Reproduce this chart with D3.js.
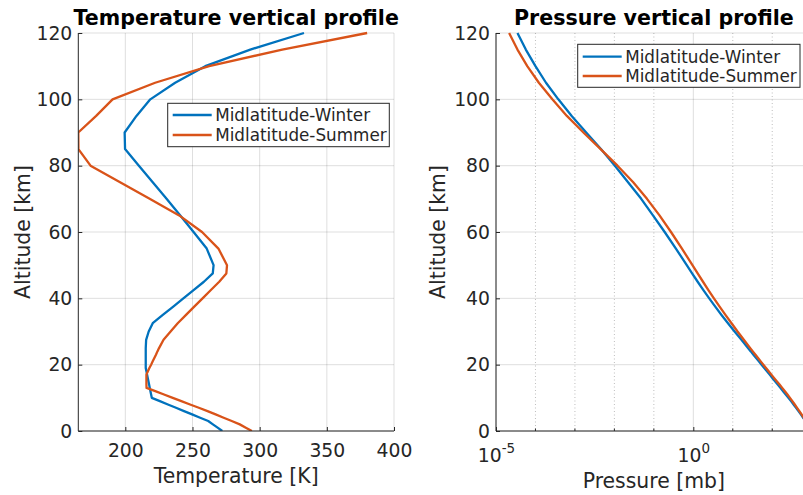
<!DOCTYPE html>
<html>
<head>
<meta charset="utf-8">
<script src="https://cdn.jsdelivr.net/npm/d3@7/dist/d3.min.js"></script>
<style>
  body { margin: 0; background: #fff; }
  svg { display: block; font-family: "DejaVu Sans", sans-serif; }
  .tick line { stroke: #262626; }
  .domain { stroke: #262626; }
</style>
</head>
<body>
<svg id="chart" width="803" height="495"></svg>
<script>
// altitude levels [km]
const altitudeKm = [0,1,2,3,4,5,6,7,8,9,10,11,12,13,14,15,16,17,18,19,20,21,22,23,24,25,
  27.5,30,32.5,35,37.5,40,42.5,45,47.5,50,
  55,60,65,70,75,80,85,90,95,100,105,110,115,120];

// temperature [K]
const winterTemp = [272.2,268.7,265.2,261.7,255.7,249.7,243.7,237.7,231.7,225.7,219.7,219.2,218.7,218.2,217.7,217.2,216.7,216.2,215.7,215.2,215.2,215.2,215.2,215.2,215.2,215.2,
  215.5,217.4,220.4,227.9,235.7,243.2,250.8,258.5,265.1,265.7,
  260.6,250.8,240.9,230.7,220.4,210.1,199.8,199.5,208.3,218.6,237.1,259.5,293.0,333.0];
const summerTemp = [294.2,289.7,285.2,279.2,273.2,267.2,261.2,254.7,248.2,241.7,235.3,228.8,222.3,215.8,215.7,215.7,215.7,215.7,216.8,217.9,219.2,220.4,221.6,222.8,223.9,225.1,
  228.45,233.7,239.0,245.2,251.3,257.5,263.7,269.9,275.2,275.7,
  269.3,257.1,240.1,218.1,196.1,174.1,165.1,165.0,178.3,190.5,222.2,262.4,316.8,380.0];

// pressure [mb]
const winterPres = [1018,897.3,789.7,693.8,608.1,531.3,462.7,401.6,347.3,299.2,256.8,219.9,188.2,161.0,137.8,117.8,100.7,86.1,73.5,62.8,53.7,45.8,39.1,33.4,28.6,24.3,
  16.6,11.1,7.56,5.18,3.60,2.53,1.80,1.29,0.932,0.682,
  0.362,0.188,0.0950,0.0478,0.0222,0.0103,0.00456,0.00193,0.000829,0.000380,0.000185,0.000100,0.000057,0.000035];
const summerPres = [1013,902,802,710,628,554,487,426,372,324,281,243,209,179,153,130,111,95.0,81.2,69.5,59.5,51.0,43.7,37.6,32.2,27.7,
  19.07,13.2,9.30,6.52,4.64,3.33,2.41,1.76,1.29,0.951,
  0.515,0.272,0.139,0.0670,0.0300,0.0120,0.00448,0.00164,0.000625,0.000268,0.000122,0.0000620,0.0000350,0.0000215];

const seriesNames = ["Midlatitude-Winter", "Midlatitude-Summer"];
const seriesColors = ["#0072BD", "#D95319"];

const altTicks = [0,20,40,60,80,100,120];
const tempTicks = [200,250,300,350,400];
const presTicks = [1e-5, 1e0];
const presTickExp = ["-5", "0"];
const presMinor = [1e-4,1e-3,1e-2,1e-1,1e1,1e2];

const svg = d3.select("#chart");
const axisColor = "#262626";

const plotTop = 33, plotBottom = 431;

function drawPanel(opt){
  let g = svg.append("g");
  let x = opt.x, y = opt.y;
  let x0 = x.range()[0], x1 = x.range()[1];

  // grid
  g.selectAll(".hgrid").data(altTicks).enter().append("line")
    .attr("x1", x0).attr("x2", x1)
    .attr("y1", d => y(d)).attr("y2", d => y(d))
    .attr("stroke", axisColor).attr("stroke-opacity", 0.15).attr("stroke-width", 1);
  g.selectAll(".vgrid").data(opt.xTicks).enter().append("line")
    .attr("x1", d => x(d)).attr("x2", d => x(d))
    .attr("y1", plotTop).attr("y2", plotBottom)
    .attr("stroke", axisColor).attr("stroke-opacity", 0.15).attr("stroke-width", 1);
  if(opt.minor){
    g.selectAll(".mgrid").data(opt.minor).enter().append("line")
      .attr("x1", d => x(d)).attr("x2", d => x(d))
      .attr("y1", plotTop).attr("y2", plotBottom)
      .attr("stroke", axisColor).attr("stroke-opacity", 0.3).attr("stroke-width", 1)
      .attr("stroke-dasharray", "1,2.5");
  }

  // clip
  let clipId = opt.id + "-clip";
  svg.append("clipPath").attr("id", clipId).append("rect")
    .attr("x", x0).attr("y", plotTop - 2).attr("width", x1 - x0).attr("height", plotBottom - plotTop + 2);

  let line = d3.line().x(d => x(d[0])).y(d => y(d[1]));
  opt.series.forEach(function(vals, i){
    let pts = vals.map((v, k) => [v, altitudeKm[k]]);
    g.append("path")
      .datum(pts)
      .attr("d", line)
      .attr("fill", "none")
      .attr("stroke", seriesColors[i])
      .attr("stroke-width", 2.3)
      .attr("stroke-linejoin", "round")
      .attr("clip-path", "url(#" + clipId + ")");
  });

  // axes (box off, ticks inward)
  let yAxis = d3.axisLeft(y).tickValues(altTicks).tickSize(-4).tickPadding(6);
  let ag = g.append("g").attr("transform", "translate(" + x0 + ",0)").call(yAxis);
  ag.selectAll("text").attr("font-size", 18.8).attr("fill", axisColor).attr("font-family", "DejaVu Sans");
  ag.select(".domain").attr("d", "M0," + plotTop + "V" + plotBottom);

  let xAxis = d3.axisBottom(x).tickValues(opt.xTicks).tickSize(-4).tickPadding(0);
  let bg = g.append("g").attr("transform", "translate(0," + plotBottom + ")").call(xAxis);
  bg.select(".domain").attr("d", "M" + x0 + ",0H" + x1);
  bg.selectAll("text").attr("font-size", 18.8).attr("fill", axisColor)
    .attr("font-family", "DejaVu Sans").attr("dy", null).attr("y", opt.tickBase - plotBottom);
  if(opt.exps){
    bg.selectAll("text").text(null).each(function(d, i){
      let t = d3.select(this);
      t.append("tspan").text("10");
      t.append("tspan").attr("font-size", 13.5).attr("dy", -9).text(opt.exps[i]);
    });
  }
  if(opt.minor){
    bg.selectAll(".minor").data(opt.minor).enter().append("line")
      .attr("x1", d => x(d)).attr("x2", d => x(d))
      .attr("y1", 0).attr("y2", -2.5).attr("stroke", axisColor);
  }

  // labels
  g.append("text").attr("x", (x0 + x1) / 2).attr("y", 25)
    .attr("text-anchor", "middle").attr("font-size", 20.6).attr("font-weight", "bold")
    .attr("fill", "#000").text(opt.title);
  g.append("text").attr("x", (x0 + x1) / 2).attr("y", opt.labelBase)
    .attr("text-anchor", "middle").attr("font-size", 20.4).attr("fill", axisColor).text(opt.xLabel);
  g.append("text")
    .attr("transform", "translate(" + opt.yLabelX + "," + ((plotTop + plotBottom) / 2) + ") rotate(-90)")
    .attr("text-anchor", "middle").attr("font-size", 20.4).attr("fill", axisColor).text("Altitude [km]");

  // legend
  let L = opt.legend;
  let lg = g.append("g");
  lg.append("rect").attr("x", L.x).attr("y", L.y).attr("width", L.w).attr("height", L.h)
    .attr("fill", "#fff").attr("stroke", axisColor).attr("stroke-width", 1);
  seriesNames.forEach(function(name, i){
    let cy = L.y + L.first + i * L.step;
    lg.append("line").attr("x1", L.x + 5).attr("x2", L.x + 44)
      .attr("y1", cy).attr("y2", cy)
      .attr("stroke", seriesColors[i]).attr("stroke-width", 2.3);
    lg.append("text").attr("x", L.x + 47.5).attr("y", cy + 6)
      .attr("font-size", 16.8).attr("fill", axisColor).text(name);
  });
}

const yScale = d3.scaleLinear().domain([0, 120]).range([plotBottom, plotTop]);

drawPanel({
  id: "temp",
  x: d3.scaleLinear().domain([165, 400]).range([78.3, 394]),
  y: yScale,
  xTicks: tempTicks,
  series: [winterTemp, summerTemp],
  title: "Temperature vertical profile",
  xLabel: "Temperature [K]",
  tickBase: 456.5,
  labelBase: 482.7,
  yLabelX: 29.5,
  legend: {x: 167.7, y: 103.3, w: 221.6, h: 43.4, first: 11.7, step: 20}
});

drawPanel({
  id: "pres",
  x: d3.scaleLog().domain([1e-5, 1e3]).range([496, 811.7]),
  y: yScale,
  xTicks: presTicks,
  exps: presTickExp,
  minor: presMinor,
  series: [winterPres, summerPres],
  title: "Pressure vertical profile",
  xLabel: "Pressure [mb]",
  tickBase: 461.7,
  labelBase: 488.3,
  yLabelX: 445,
  legend: {x: 577.7, y: 44.3, w: 222.3, h: 43, first: 12.4, step: 19.3}
});
</script>
</body>
</html>
